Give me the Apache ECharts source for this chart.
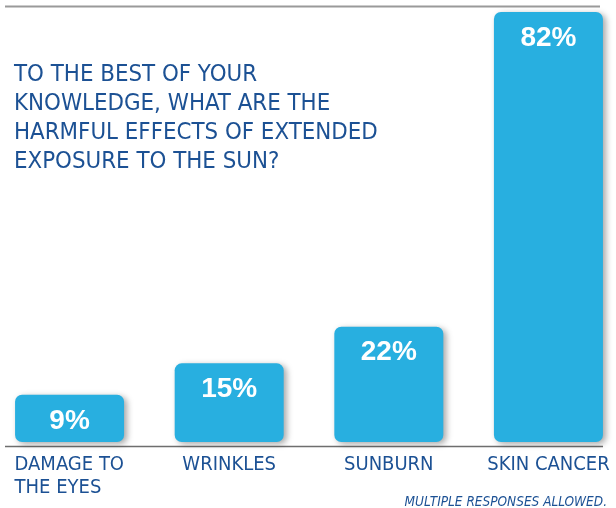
<!DOCTYPE html>
<html>
<head>
<meta charset="utf-8">
<script src="https://cdn.jsdelivr.net/npm/echarts@6/dist/echarts.min.js"></script>
<style>
html,body{margin:0;padding:0;background:#fff;}
#c{width:616px;height:508px;}
</style>
</head>
<body>
<div id="c"></div>
<script>
const categories = ['DAMAGE TO\nTHE EYES', 'WRINKLES', 'SUNBURN', 'SKIN CANCER'];
const values = [9, 15, 22, 82];
const titleText = 'TO THE BEST OF YOUR\nKNOWLEDGE, WHAT ARE THE\nHARMFUL EFFECTS OF EXTENDED\nEXPOSURE TO THE SUN?';
const footnote = 'MULTIPLE RESPONSES ALLOWED.';

const narrow = '"DejaVu Sans Condensed", "Liberation Sans Narrow", sans-serif';
const blueText = '#1c5194';
const barColor = '#28afe0';

const chart = echarts.init(document.getElementById('c'), null, {renderer: 'canvas'});
chart.setOption({
  backgroundColor: '#ffffff',
  animation: false,
  title: [
    {
      text: titleText,
      left: 9, top: 55,
      textStyle: {fontFamily: narrow, fontSize: 23.8, fontWeight: 'normal', color: blueText, lineHeight: 29.2}
    },
    {
      text: footnote,
      right: 4, top: 490,
      textStyle: {fontFamily: narrow, fontSize: 13.5, fontWeight: 'normal', fontStyle: 'italic', color: blueText}
    }
  ],
  grid: {left: -10.25, right: -12.25, top: 12, bottom: 66, containLabel: false, outerBoundsMode: 'none'},
  xAxis: {
    type: 'category',
    data: categories,
    axisLine: {show: false},
    axisTick: {show: false},
    axisLabel: {
      margin: 12,
      fontFamily: narrow, fontSize: 20, color: blueText, lineHeight: 22.5,
      interval: 0,
      formatter: function (value, index) {
        if (value.indexOf('\n') >= 0) {
          return value.split('\n').map(function (s) { return '{l|' + s + '}'; }).join('\n');
        }
        return value;
      },
      rich: {
        l: {width: 110, align: 'left', fontFamily: narrow, fontSize: 20, color: blueText, lineHeight: 22.5}
      }
    }
  },
  yAxis: {
    type: 'value', min: 0, max: 82,
    show: false,
    splitLine: {show: false}
  },
  series: [{
    type: 'bar',
    data: values,
    barWidth: 109,
    itemStyle: {
      color: barColor,
      borderRadius: 7,
      shadowColor: 'rgba(0,0,0,0.35)',
      shadowBlur: 6,
      shadowOffsetX: 3,
      shadowOffsetY: 2
    },
    label: {
      show: true,
      position: 'insideTop',
      distance: 12,
      formatter: '{c}%',
      color: '#ffffff',
      fontFamily: '"Liberation Sans", Arial, sans-serif',
      fontSize: 28,
      fontWeight: 'bold'
    }
  }],
  graphic: [
    {type: 'line', shape: {x1: 5, y1: 6.5, x2: 600, y2: 6.5}, style: {stroke: '#9a9a9a', lineWidth: 2}, silent: true},
    {type: 'line', shape: {x1: 5, y1: 446.5, x2: 603, y2: 446.5}, style: {stroke: '#6e6e6e', lineWidth: 1.5}, silent: true}
  ]
});
</script>
</body>
</html>
